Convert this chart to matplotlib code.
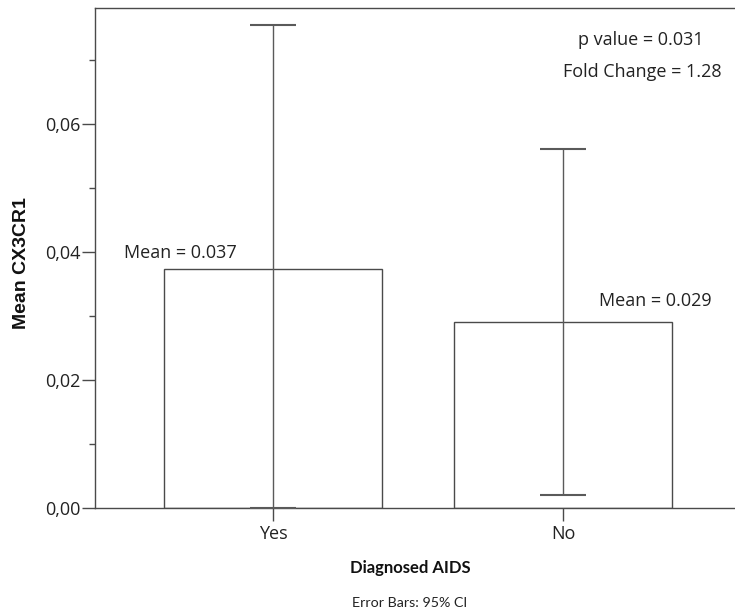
import matplotlib
matplotlib.use("Agg")
import matplotlib.pyplot as plt
from matplotlib.ticker import MultipleLocator, FuncFormatter

# Data
categories = ["Yes", "No"]
means = [0.0373, 0.0290]
ci_lower = [0.0000, 0.0020]
ci_upper = [0.0755, 0.0561]
mean_labels = ["Mean = 0.037", "Mean = 0.029"]
p_value_text = "p value = 0.031"
fold_change_text = "Fold Change = 1.28"

W, H = 735, 615
fig = plt.figure(figsize=(W / 100, H / 100), dpi=100)
ax = fig.add_axes([95 / W, 107 / H, 646 / W, 500 / H])

line_col = "#4a4a4a"
err_col = "#5a5a5a"
font = "Open Sans"
fs = 13

x = list(range(len(categories)))
ax.bar(x, means, width=0.755, color="white", edgecolor=line_col, linewidth=1.0, zorder=2)

lo_err = [m - l for m, l in zip(means, ci_lower)]
hi_err = [u - m for m, u in zip(means, ci_upper)]
ax.errorbar(x, means, yerr=[lo_err, hi_err], fmt="none", ecolor=err_col,
             elinewidth=1.0, capsize=16.5, capthick=1.5, zorder=3)

ax.set_xlim(-0.614, 1.614)
ax.set_ylim(0, 0.078125)

ax.yaxis.set_major_locator(MultipleLocator(0.02))
ax.yaxis.set_minor_locator(MultipleLocator(0.01))
ax.yaxis.set_major_formatter(FuncFormatter(lambda v, p: f"{v:.2f}".replace(".", ",")))
ax.set_xticks(x)
ax.set_xticklabels(categories)

for lab in ax.get_xticklabels() + ax.get_yticklabels():
    lab.set_fontfamily(font)
    lab.set_fontsize(fs)
    lab.set_color("#222222")

ax.tick_params(axis="y", which="major", length=9.5, width=1.0, color=line_col, pad=1)
ax.tick_params(axis="y", which="minor", length=4.5, width=1.0, color=line_col)
ax.tick_params(axis="x", which="major", length=9.5, width=1.0, color=line_col, pad=3)

for side in ["left", "bottom", "top"]:
    ax.spines[side].set_color(line_col)
    ax.spines[side].set_linewidth(1.0)
ax.spines["right"].set_visible(False)

# Mean annotations
ax.text(x[0] - 0.125, means[0] + 0.0025, mean_labels[0], ha="right", va="center",
        fontfamily=font, fontsize=fs, color="#222222")
ax.text(x[1] + 0.125, means[1] + 0.0033, mean_labels[1], ha="left", va="center",
        fontfamily=font, fontsize=fs, color="#222222")

# Test statistics
fig.text(641 / W, 1 - 40 / H, p_value_text, ha="center", va="center",
         fontfamily=font, fontsize=fs, color="#222222")
fig.text(642 / W, 1 - 72 / H, fold_change_text, ha="center", va="center",
         fontfamily=font, fontsize=fs, color="#222222")

# Axis titles
fig.text(22 / W, 1 - 263 / H, "Mean CX3CR1", rotation=90, ha="center", va="center",
         fontfamily="Liberation Sans", fontsize=14, fontweight="bold", color="#111111")
fig.text(410 / W, 1 - 568 / H, "Diagnosed AIDS", ha="center", va="center",
         fontfamily="Lato", fontsize=12, fontweight="bold", color="#111111")
fig.text(410 / W, 1 - 603 / H, "Error Bars: 95% CI", ha="center", va="center",
         fontfamily="Lato", fontsize=10.3, color="#222222")

fig.savefig("out.png", dpi=100)
